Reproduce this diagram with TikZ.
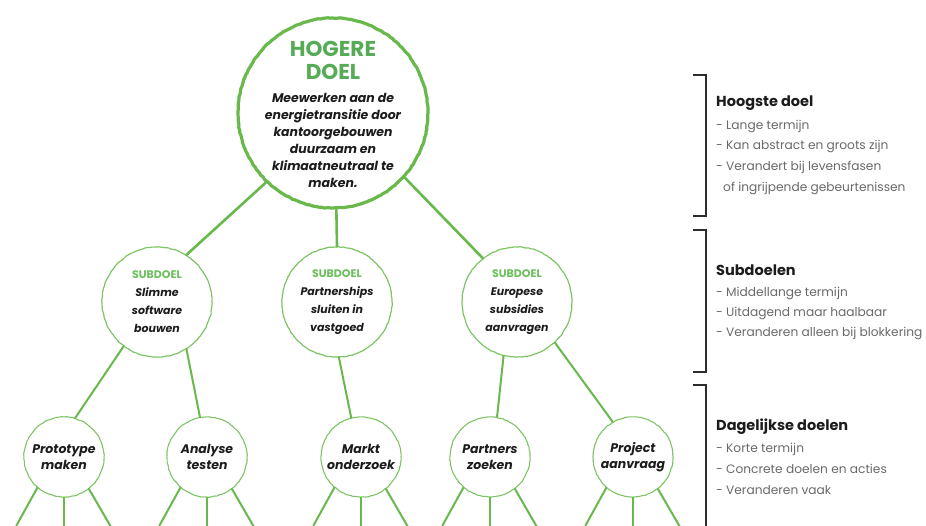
\documentclass[tikz,border=0pt]{standalone}
\usepackage{fontspec}
\setmainfont{Poppins}
\usetikzlibrary{decorations.pathmorphing}
\definecolor{leaf}{RGB}{104,184,76}
\definecolor{paleleaf}{RGB}{124,196,100}
\definecolor{titlegreen}{RGB}{86,172,86}
\definecolor{subgreen}{RGB}{108,192,92}
\definecolor{ink}{RGB}{28,28,28}
\definecolor{note}{RGB}{105,105,105}
\definecolor{railgray}{RGB}{45,45,45}
\begin{document}
\pgfmathsetseed{7}
\begin{tikzpicture}[x=1pt,y=-1pt,
  roughring/.style={circle, inner sep=0pt, decorate,
    decoration={random steps, segment length=2.5pt, amplitude=0.35pt}},
  goalring/.style={roughring, draw=leaf, line width=3.2pt, minimum size=190pt},
  subring/.style={roughring, draw=paleleaf, line width=1.2pt, minimum size=110pt, text=ink, align=center,
    font=\fontsize{11}{18}\selectfont\bfseries\itshape},
  dayring/.style={roughring, draw=paleleaf, line width=1.1pt, minimum size=80pt, text=ink, align=center,
    font=\fontsize{12.5}{16}\selectfont\bfseries\itshape},
  branch/.style={draw=leaf, line width=2.6pt, line cap=round},
  twig/.style={draw=leaf, line width=2pt, line cap=round},
  rail/.style={draw=railgray, line width=1.8pt},
  notehead/.style={anchor=west, text=ink, inner sep=0pt, font=\fontsize{14.5}{17}\selectfont\bfseries},
  noteitem/.style={anchor=west, text=note, inner sep=0pt, font=\fontsize{12.2}{14}\selectfont},
]
\path[use as bounding box, clip] (0,0) rectangle (926,525);

% top goal
\node[goalring] (top) at (333,113) {};
\node[text=titlegreen, align=center, font=\fontsize{21.5}{23}\selectfont\bfseries] (toptitle) at (333,60) {HOGERE\\DOEL};
\node[text=ink, align=center, font=\fontsize{12.5}{17}\selectfont\bfseries\itshape] (toptext) at (333,140)
  {Meewerken aan de\\energietransitie door\\kantoorgebouwen\\duurzaam en\\klimaatneutraal te\\maken.};

% sub goals
\node[subring] (s1) at (157,302) {{\upshape\color{subgreen}SUBDOEL}\\Slimme\\software\\bouwen};
\node[subring] (s2) at (337,302) {{\upshape\color{subgreen}SUBDOEL}\\Partnerships\\sluiten in\\vastgoed};
\node[subring] (s3) at (517,302) {{\upshape\color{subgreen}SUBDOEL}\\Europese\\subsidies\\aanvragen};

% daily goals
\node[dayring] (d1) at (64,457) {Prototype\\maken};
\node[dayring] (d2) at (207,457) {Analyse\\testen};
\node[dayring] (d3) at (361,457) {Markt\\onderzoek};
\node[dayring] (d4) at (490,457) {Partners\\zoeken};
\node[dayring] (d5) at (633,457) {Project\\aanvraag};

% branches
\draw[branch] (top.226) -- (s1.58);
\draw[branch] (top.272) -- (s2.90);
\draw[branch] (top.318) -- (s3.128);
\draw[twig] (s1.233) -- (d1.74);
\draw[twig] (s1.302) -- (d2.100);
\draw[twig] (s2.272) -- (d3.104);
\draw[twig] (s3.256) -- (d4.80);
\draw[twig] (s3.313) -- (d5.120);
\foreach \d in {d1,d2,d3,d4,d5}{
  \draw[twig] (\d.229) -- ++(-21,38);
  \draw[twig] (\d.270) -- ++(0,38);
  \draw[twig] (\d.308) -- ++(22,38);
}

% level brackets
\draw[rail] (693,75) -- (706,75) -- (706,216) -- (693,216);
\draw[rail] (693,230) -- (706,230) -- (706,372) -- (693,372);
\draw[rail] (693,385) -- (706,385) -- (706,540);

\node[notehead] (h1) at (716,103) {Hoogste doel};
\node[noteitem] (h1a) at (716,127) {- Lange termijn};
\node[noteitem] (h1b) at (716,147) {- Kan abstract en groots zijn};
\node[noteitem] (h1c) at (716,167) {- Verandert bij levensfasen};
\node[noteitem] (h1d) at (723,188) {of ingrijpende gebeurtenissen};

\node[notehead] (h2) at (716,270) {Subdoelen};
\node[noteitem] (h2a) at (716,293) {- Middellange termijn};
\node[noteitem] (h2b) at (716,313) {- Uitdagend maar haalbaar};
\node[noteitem] (h2c) at (716,333) {- Veranderen alleen bij blokkering};

\node[notehead] (h3) at (716,427) {Dagelijkse doelen};
\node[noteitem] (h3a) at (716,449) {- Korte termijn};
\node[noteitem] (h3b) at (716,469) {- Concrete doelen en acties};
\node[noteitem] (h3c) at (716,490) {- Veranderen vaak};
\end{tikzpicture}
\end{document}
